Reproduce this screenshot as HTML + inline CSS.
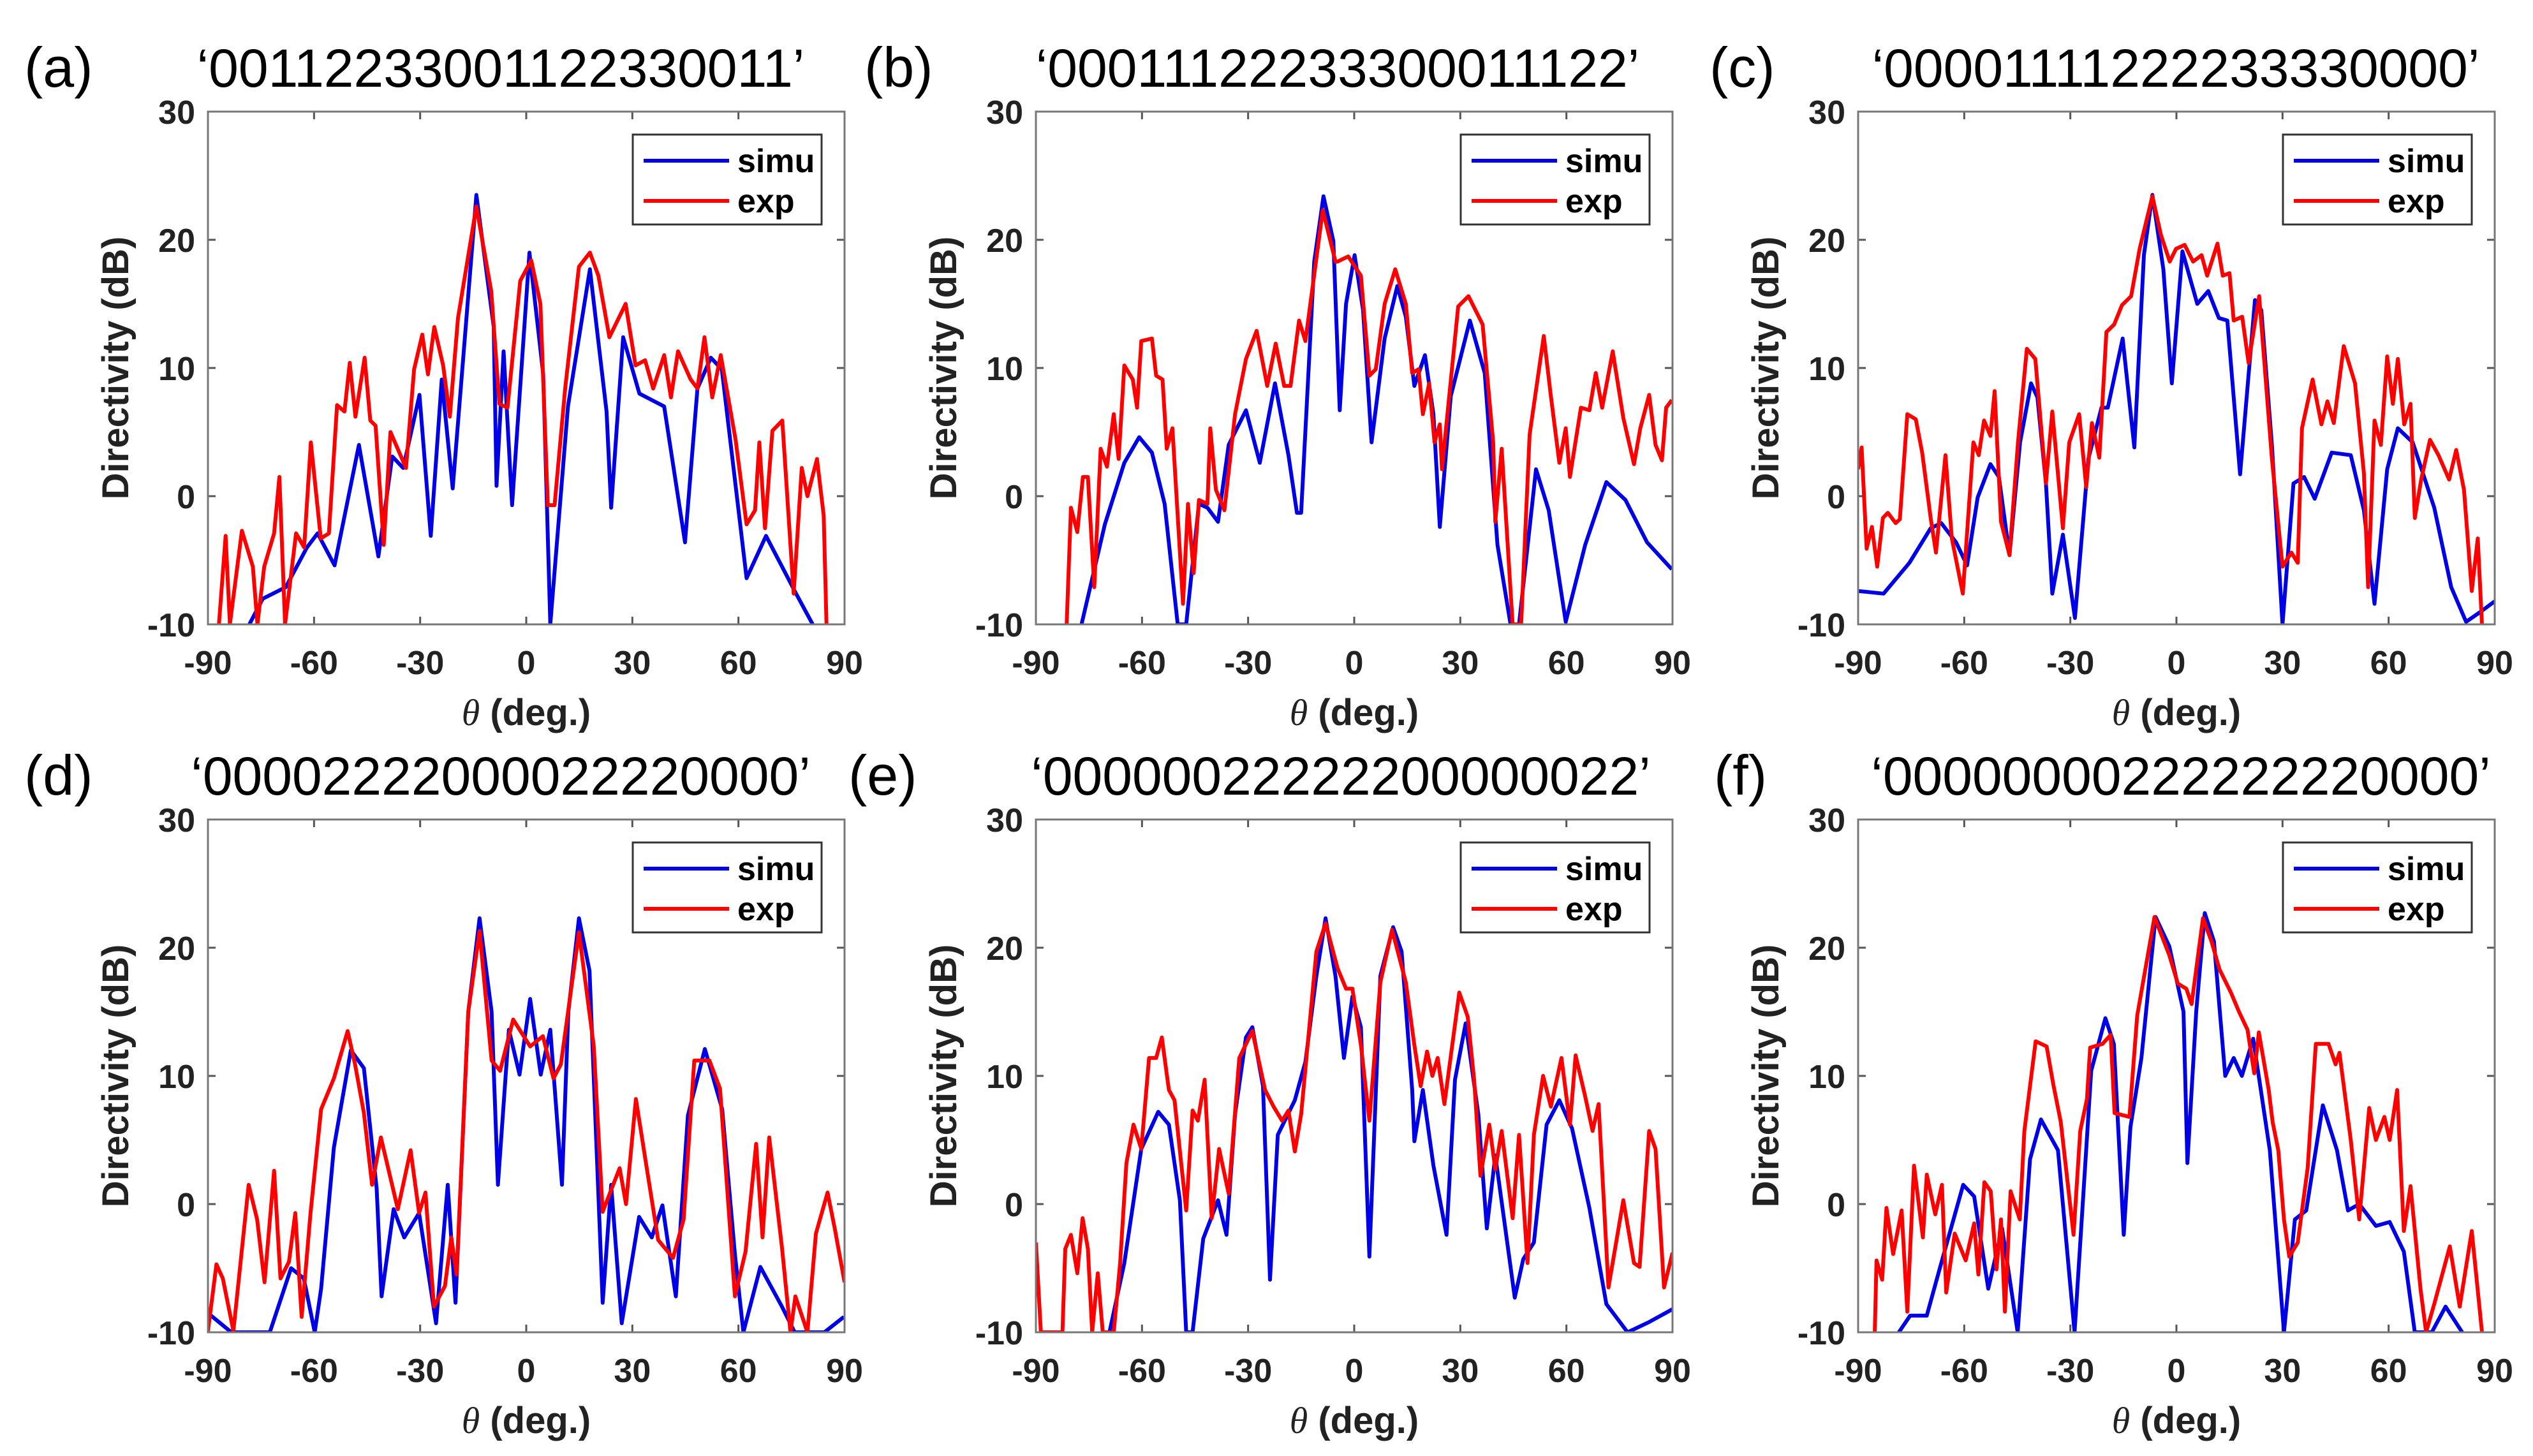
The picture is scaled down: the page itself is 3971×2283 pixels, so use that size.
<!DOCTYPE html>
<html><head><meta charset="utf-8"><style>
html,body{margin:0;padding:0;background:#fff;}
svg{display:block;}
text{font-family:"Liberation Sans",Arial,sans-serif;}
</style></head><body>
<svg id="fig" width="3971" height="2283" viewBox="0 0 3971 2283" xmlns="http://www.w3.org/2000/svg"></svg>
<script>
const xTicks=[-90,-60,-30,0,30,60,90];
const yTicks=[-10,0,10,20,30];
const panelLetters=["(a)","(b)","(c)","(d)","(e)","(f)"];
const panelTitles=["\u20180011223300112233001\u20191".slice(0,0)+"\u2018001122330011223300\u2019".replace("001122330011223300","0011223300112233001"+"1").replace("00112233001122330011","0011223300112233001").slice(0,0)+"\u20180011223300112233\u00300011\u2019".replace("\u0030","0"),"\u20180001112223330001112\u00322\u2019".replace("\u0032","2"),"\u201800001111222233330000\u2019","\u201800002222000022220000\u2019","\u201800000022222200000022\u2019","\u201800000000222222220000\u2019"];
const simuA=[[-78.3,-10],[-74.5,-8],[-68,-7.1],[-62,-4],[-59,-2.9],[-54.2,-5.4],[-47.3,4],[-41.8,-4.7],[-37.9,3.1],[-34.8,2.2],[-30.2,7.9],[-27,-3.1],[-23.9,9.1],[-20.8,0.6],[-14.1,23.5],[-9.2,13.2],[-8.4,0.8],[-6.4,11.3],[-4,-0.7],[0.9,19],[4.8,9.5],[6.8,-10],[11.8,7],[18,17.7],[22.7,6.6],[24,-0.9],[27.4,12.4],[32,8],[39,7],[44.9,-3.6],[48.4,8.4],[52.2,10.8],[55.3,9.9],[62.3,-6.4],[67.8,-3.1],[76.3,-7.6],[81,-10]];
const expA=[[-86.9,-10],[-85,-3.1],[-83.8,-10],[-80.4,-2.7],[-77.3,-5.5],[-76,-10],[-74.1,-5.5],[-71.3,-2.9],[-69.8,1.5],[-68.2,-10],[-65.1,-2.9],[-62.8,-4],[-60.9,4.2],[-58.1,-3.3],[-55.8,-2.9],[-53.5,7.1],[-51.4,6.6],[-49.9,10.4],[-48.3,6.2],[-45.7,10.8],[-44.1,5.9],[-42.6,5.5],[-40.3,-3.8],[-38.4,5],[-34,2.2],[-31.7,9.9],[-29.4,12.6],[-27.8,9.5],[-26,13.2],[-23.5,10.2],[-21.6,6.2],[-19.3,13.9],[-14.1,22.6],[-9.9,16],[-7.6,7.2],[-5.3,6.9],[-1.7,16.8],[1.4,18.4],[4,15],[6.1,-0.7],[8,-0.7],[11,8.4],[14.9,17.9],[18,19],[20.4,17.2],[23.5,12.4],[28.1,15],[30.9,10.2],[33.6,10.6],[35.9,8.4],[39,11],[40.9,7.7],[42.9,11.3],[46.5,9.1],[48.4,8.4],[50.4,12.4],[52.6,7.7],[55,11],[59.2,4.4],[62.3,-2.2],[64.7,-1.1],[65.9,4.2],[67.5,-2.5],[69.6,5.1],[72.4,5.9],[75.6,-7.6],[77.9,2.2],[79.5,0],[82.2,2.9],[84.1,-1.5],[84.9,-10]];
const simuB=[[-77.1,-10],[-70.5,-2.2],[-65,2.6],[-60.8,4.6],[-57.2,3.4],[-53.6,-0.6],[-49.9,-10],[-47.5,-10],[-43.9,-0.6],[-41.5,-0.9],[-38.5,-2],[-35.5,4],[-30.6,6.7],[-26.7,2.6],[-22.4,8.8],[-18.6,3.2],[-16.2,-1.3],[-15,-1.3],[-11.3,18.3],[-8.7,23.4],[-5.9,19.9],[-4.1,6.7],[-2.3,15],[0.1,18.8],[2.5,14.5],[4.9,4.2],[8.6,12.3],[12.2,16.4],[14.6,14],[17,8.6],[20,11],[22.4,6.4],[24.2,-2.4],[27.3,7.8],[32.7,13.7],[36.9,9.6],[40.5,-3.8],[44.2,-10],[46.6,-10],[51.4,2.1],[55,-1.1],[59.8,-9.8],[65.3,-3.8],[71.3,1.1],[76.7,-0.3],[82.8,-3.6],[89.8,-5.7]];
const expB=[[-81.3,-10],[-80.1,-0.9],[-78.3,-2.8],[-76.7,1.5],[-75.3,1.5],[-73.5,-7.1],[-71.7,3.7],[-69.9,2.3],[-68,6.4],[-66.6,2.9],[-65,10.2],[-62.6,9.1],[-61.4,6.9],[-60.2,12.1],[-57.2,12.3],[-56,9.4],[-54.2,9.1],[-53,3.7],[-51.4,5.3],[-48.4,-8.4],[-47,-0.6],[-45.4,-6],[-43.9,-0.3],[-41.5,-0.6],[-40.7,5.3],[-39.1,0.5],[-36.7,-1.1],[-33.7,6.4],[-30.6,10.7],[-27.6,12.9],[-24.6,8.6],[-22.2,11.9],[-19.8,8.6],[-18,8.6],[-15.6,13.7],[-13.8,12.1],[-8.9,22.3],[-5.3,18.3],[-4.7,18.3],[-1.7,18.7],[1.9,17.2],[4.3,9.4],[6.1,9.9],[8.6,15],[11.6,17.7],[14.6,15],[16.4,9.6],[18.2,9.9],[19.4,6.4],[21.2,8.8],[22.7,4.2],[24.2,5.6],[24.8,2.1],[29.4,14.8],[32.3,15.6],[36.3,13.4],[39.3,4.2],[39.9,-2],[41.7,3.7],[44.8,-10],[47.2,-10],[49.6,4.8],[53.6,12.5],[55.6,7.8],[58,2.6],[59.8,5.3],[61,1.5],[64.1,6.9],[66.5,6.7],[68.3,9.6],[70.1,6.9],[73.1,11.3],[76.1,6.1],[79.1,2.5],[80.9,5.3],[83.4,7.9],[85.2,4],[87,2.8],[88.2,6.9],[89.8,7.5]];
const simuC=[[-90,-7.4],[-82.8,-7.6],[-75.5,-5.2],[-69.5,-2.5],[-66.5,-2.1],[-62.3,-3.6],[-59.2,-5.4],[-56.2,-0.1],[-52.6,2.5],[-50.2,1.5],[-47.2,-4.6],[-44.2,4.2],[-41.1,8.8],[-39.3,7.7],[-36.9,1],[-35.1,-7.6],[-32.1,-3],[-28.7,-9.5],[-24.9,2.9],[-21.2,6.9],[-19.4,6.9],[-15.2,12.3],[-11.9,3.8],[-9.2,18.8],[-6.8,23.5],[-3.7,17.7],[-1.3,8.8],[1.7,19.1],[5.9,15],[9,16],[12,13.9],[14.4,13.7],[18,1.7],[22.2,15.3],[24,14.5],[27,4],[30,-10],[33.1,1],[36.1,1.5],[39.1,-0.2],[43.9,3.4],[49.3,3.2],[53,-1.1],[56,-8.4],[59.6,2.1],[62.6,5.3],[66.8,4.2],[72.9,-0.9],[77.7,-7.1],[81.9,-9.8],[86.1,-9],[90,-8.2]];
const expC=[[-90,2.1],[-89,3.8],[-87.6,-4.1],[-86.1,-2.4],[-84.6,-5.5],[-83,-1.7],[-81.6,-1.3],[-79.4,-2.1],[-78.2,-1.8],[-76.1,6.4],[-73.7,6],[-71.9,3.4],[-69.5,-1.7],[-68,-4.4],[-65.3,3.2],[-63.5,-3.3],[-60.4,-7.6],[-57.4,4.2],[-55.9,3.2],[-54.4,5.9],[-52.6,4.7],[-51.4,8.2],[-49.6,-2],[-47.2,-4.6],[-44.8,4.2],[-42.3,11.5],[-39.9,10.7],[-36.9,1],[-35.1,6.6],[-32.1,-2.5],[-30.3,4.2],[-27.5,6.4],[-25.5,0.7],[-23.9,5.7],[-21.8,3],[-19.8,12.8],[-17.6,13.4],[-15.4,14.9],[-12.8,15.6],[-10.4,19.3],[-6.8,23.4],[-4.4,20.4],[-1.9,18.3],[-0.1,19.3],[2.3,19.6],[4.7,18.3],[7.1,18.8],[8.7,17.2],[11.6,19.7],[13.1,17.2],[15,17.4],[16.2,13.7],[18.6,14],[20.4,10.4],[23.4,15.6],[27,2.9],[30,-5.5],[32.5,-4.4],[34.3,-5.2],[35.5,5.3],[38.5,9.1],[41,5.6],[42.7,7.4],[44.5,5.7],[47.3,11.7],[50.5,8.8],[53,1.8],[54.2,-7.1],[56,5.9],[57.8,4],[59.6,10.9],[61.2,7.2],[62.6,10.7],[64.4,5.6],[66.2,7.2],[67.4,-1.7],[69.2,1.3],[71.7,4.4],[74.1,3.2],[77.1,1.3],[79.1,3.6],[81.3,0.5],[83.5,-7.4],[85.2,-3.3],[86.4,-10]];
const simuD=[[-90,-8.5],[-83.4,-10],[-72.5,-10],[-66.5,-5],[-62.9,-5.8],[-59.8,-10],[-58,-6.6],[-54.4,4.4],[-49.6,12],[-45.9,10.6],[-42.3,1.2],[-40.9,-7.2],[-37.5,-0.4],[-34.5,-2.6],[-30.3,-0.7],[-25.5,-9.3],[-22.2,1.5],[-20,-7.7],[-16.4,15],[-13.2,22.3],[-9.8,15],[-8,1.5],[-4.9,13.6],[-1.9,10.1],[1.1,16],[4.1,10.1],[6.8,13.6],[10.1,1.5],[11.9,15],[14.9,22.3],[17.9,18.2],[21.6,-7.7],[24,1.5],[27,-9.3],[31.9,-1],[35.5,-2.6],[38.5,-0.1],[42.3,-7.2],[45.7,6.9],[50.5,12.1],[55.4,7.4],[59,-3.9],[61.4,-10],[66.2,-4.9],[72.3,-8],[75.9,-10],[84.3,-10],[89.8,-8.8]];
const expD=[[-90,-9.9],[-87.6,-4.7],[-85.8,-5.8],[-82.8,-9.9],[-78.5,1.5],[-76.1,-1.2],[-74,-6.1],[-71.3,2.6],[-69.5,-5.8],[-67.1,-4.5],[-65.3,-0.7],[-63.5,-8.8],[-61,-0.7],[-58,7.4],[-54.4,9.8],[-50.5,13.5],[-48.4,10.9],[-45.9,7.1],[-43.6,1.5],[-41.1,5.2],[-36.3,-0.4],[-32.7,4.2],[-30.3,-0.7],[-28.5,0.9],[-26.1,-8],[-23,-6.4],[-21.2,-2.6],[-19.7,-5.5],[-16.4,15],[-13.2,21.3],[-9.8,11.2],[-7.4,10.4],[-3.7,14.4],[1.1,12.3],[4.7,13.1],[7.7,9.8],[9.8,10.9],[14.9,21.2],[19.1,12.3],[21.6,-0.6],[26.4,2.8],[28.2,0],[31,8.2],[34.3,2.4],[37.3,-2.8],[41.5,-4.2],[44.5,-1.2],[47.5,11.2],[51.8,11.2],[54.8,9],[59,-7.2],[62,-3.7],[65,4.7],[66.8,-2.6],[68.7,5.2],[72.3,-3.4],[74.7,-10],[76.1,-7.2],[79.5,-10],[81.9,-2.3],[85.2,0.9],[87.3,-2],[90,-6.1]];
const simuE=[[-69.2,-10],[-65,-4.6],[-60.2,4.3],[-55.4,7.2],[-52.4,6.2],[-49.3,0.3],[-47.5,-10],[-45.7,-10],[-42.7,-2.7],[-38.5,0.3],[-36.1,-2.4],[-33.7,7],[-30.6,13],[-28.8,13.8],[-25.8,9.2],[-23.8,-5.9],[-21.6,5.4],[-16.8,8.1],[-13.8,11.1],[-10.7,17.8],[-8.1,22.3],[-5.3,17.8],[-2.9,11.4],[-0.5,16.2],[1.9,13.8],[4.3,-4.1],[7.4,17.8],[11,21.6],[13.4,19.7],[16.4,8.9],[17,4.9],[19.4,8.9],[22.4,3],[26.1,-2.4],[28.5,9.7],[31.5,14.1],[35.1,7],[37.5,-1.9],[39.9,3.8],[45.4,-7.3],[47.8,-4.3],[50.8,-3],[54.4,6.2],[58,8.1],[61.6,5.9],[66.5,-0.3],[71.3,-7.8],[77.3,-10],[83.4,-9.2],[90,-8.2]];
const expE=[[-90,-3],[-88.6,-10],[-82.5,-10],[-81.7,-3.5],[-80.1,-2.4],[-78.3,-5.4],[-76.8,-1.1],[-75.3,-3.5],[-74.1,-10],[-72.5,-5.4],[-71.1,-10],[-68,-10],[-66.2,-4.6],[-64.4,3.2],[-62.4,6.2],[-60.2,4.3],[-58,11.4],[-56,11.4],[-54.4,13],[-52.4,8.9],[-50.8,8.1],[-47.5,-0.5],[-45.7,7.3],[-44.2,6.5],[-42.3,9.7],[-40.3,-1.1],[-38.2,4.3],[-35.5,0.8],[-32.5,11.4],[-28.8,13.5],[-25.2,8.9],[-22.8,7.6],[-20.4,6.5],[-18.6,7.3],[-16.8,4.1],[-15,7],[-10.7,19.7],[-8.1,21.9],[-4.7,18.4],[-2.3,16.8],[-0.5,16.8],[1.9,12.4],[4.3,6.5],[7.4,17.3],[10.7,21.4],[14.6,17.3],[17,12.4],[18.8,9.2],[20.6,11.9],[22.1,10],[23.6,11.4],[25.5,7.8],[29.7,16.5],[32.1,14.6],[33.9,9.7],[35.7,2.2],[38.2,6.2],[39.9,2.7],[41.7,5.7],[44.8,-1.1],[46.6,5.4],[49,-4.6],[50.8,5.4],[53.4,10],[55.6,7.6],[58.6,11.4],[61,6.2],[62.6,11.6],[65.3,8.4],[67.4,5.7],[69.1,7.8],[71.9,-6.5],[76.1,0.3],[79.1,-4.6],[80.7,-4.9],[83.4,5.7],[85.2,4.3],[87.6,-6.5],[90,-3.8]];
const simuF=[[-78.5,-10],[-75.3,-8.7],[-70.6,-8.7],[-66.7,-4.8],[-60.3,1.5],[-57.2,0.6],[-53.2,-6.6],[-49.3,-1.9],[-44.9,-10],[-41.4,3.5],[-38.3,6.6],[-33.5,4.2],[-28.8,-10],[-24.1,10.4],[-20.1,14.5],[-17.7,12.5],[-14.9,-2.4],[-13,6],[-9.9,11.4],[-5.9,22.4],[-2,20.1],[2,15],[3.1,3.2],[5.6,15],[8,22.7],[10.6,20.5],[13.8,10],[16.2,11.4],[18.5,10],[21.7,12.9],[26.4,4.2],[30.4,-10],[33.5,-1.2],[36.7,-0.5],[41.4,7.7],[45.4,4.2],[48.5,-0.5],[51.7,0],[56.4,-1.7],[60.3,-1.4],[64.3,-3.7],[67.4,-10],[72.2,-10],[76.1,-8],[80.8,-10]];
const expF=[[-85.3,-10],[-84.8,-4.4],[-83.2,-5.9],[-82,-0.3],[-80.1,-3.9],[-77.7,-0.5],[-76.1,-8.4],[-74.2,3],[-71.7,-2.6],[-70.6,2.3],[-68.2,-0.8],[-66.3,1.5],[-65.1,-6.9],[-62.7,-2.3],[-59.6,-4.4],[-57.2,-1.5],[-56,-5.5],[-54.3,1.7],[-52.5,1],[-50.9,-5.1],[-49.6,-1.2],[-48.5,-8.4],[-46.9,1],[-44.3,-1.2],[-43,5.7],[-39.8,12.7],[-36.7,12.3],[-34.8,9.3],[-32.7,6.4],[-29.1,-2.4],[-27.2,5.7],[-25.3,8.2],[-24.4,12.2],[-20.9,12.5],[-18.6,13.2],[-17.5,7.1],[-13.3,6.8],[-11.1,14.7],[-6.2,22.4],[-2,19.4],[0.4,17.2],[2.8,16.8],[4.3,15.6],[7.5,22.3],[9.9,20.5],[12.2,18.3],[15.4,16.5],[17.7,15],[20.1,13.6],[22,10.2],[23.3,13.4],[26.1,8.9],[27.2,6.4],[28.8,4.2],[30.4,-1.2],[31.9,-4.1],[34.3,-3],[37.1,2.8],[39.4,12.5],[43,12.5],[45,10.9],[46.1,11.8],[49.3,5],[51.7,-1.2],[54.5,7.5],[56.4,5],[58.8,6.8],[60.3,5],[62.4,8.9],[64.3,-2.1],[66.2,1.4],[69,-6.6],[70.6,-10],[73,-7.7],[77.3,-3.3],[80.1,-8],[83.5,-2.1],[86.4,-10]];

const NS="http://www.w3.org/2000/svg";
const svg=document.getElementById('fig');
const W=998,H=804;
const lefts=[326,1624,2913],tops=[175,1285];
const titleCx=[785,2097,3411,785,2102,3419];
const letterX=[38,1355,2680,38,1330,2687];
const titles=["\u20180011223300112233\u0030011\u2019","\u20180001112223330001112\u0032\u2019","\u201800001111222233330000\u2019","\u201800002222000022220000\u2019","\u201800000022222200000022\u2019","\u201800000000222222220000\u2019"];
const simuSeries=[simuA,simuB,simuC,simuD,simuE,simuF];
const expSeries=[expA,expB,expC,expD,expE,expF];
function mk(tag,attrs,parent){const e=document.createElementNS(NS,tag);for(const k in attrs)e.setAttribute(k,attrs[k]);(parent||svg).appendChild(e);return e;}
for(let p=0;p<6;p++){
  const L=lefts[p%3],T=tops[Math.floor(p/3)];
  const xs=v=>L+(v+90)/180*W;
  const ys=v=>T+H-(v+10)/40*H;
  const g=mk('g',{});
  
  
  const lt=mk('text',{x:letterX[p],y:T-39,'font-size':88,fill:'#000'},g);lt.textContent=panelLetters[p];
  
  
  const tt=mk('text',{x:titleCx[p],y:T-39,'font-size':84,'text-anchor':'middle',fill:'#000'},g);tt.textContent=titles[p];
  
  
  const cid='clip'+p;
  const cp=mk('clipPath',{id:cid},g);mk('rect',{x:L,y:T,width:W,height:H},cp);
  // ticks
  xTicks.forEach(v=>{const x=xs(v);
    mk('line',{x1:x,y1:T+H,x2:x,y2:T+H-12,stroke:'#555','stroke-width':3},g);
    mk('line',{x1:x,y1:T,x2:x,y2:T+12,stroke:'#555','stroke-width':3},g);
    const t=mk('text',{x:x,y:T+H+78,'font-size':52,'font-weight':'bold','text-anchor':'middle',fill:'#222'},g);t.textContent=v;
    
    });
  yTicks.forEach(v=>{const y=ys(v);
    mk('line',{x1:L,y1:y,x2:L+12,y2:y,stroke:'#555','stroke-width':3},g);
    mk('line',{x1:L+W,y1:y,x2:L+W-12,y2:y,stroke:'#555','stroke-width':3},g);
    const t=mk('text',{x:L-20,y:y+19,'font-size':52,'font-weight':'bold','text-anchor':'end',fill:'#222'},g);t.textContent=v;
    
    });
  const series=[[simuSeries[p],'#0000e6','simu-line'],[expSeries[p],'#ff0000','exp-line']];
  series.forEach(s=>{
    const d=s[0].map((pt,i)=>(i?'L':'M')+xs(pt[0]).toFixed(1)+' '+ys(pt[1]).toFixed(1)).join(' ');
    const path=mk('path',{d:d,fill:'none',stroke:s[1],'stroke-width':6,'stroke-linejoin':'round','clip-path':'url(#'+cid+')'},g);
    
    
  });
  const box=mk('rect',{x:L,y:T,width:W,height:H,fill:'none',stroke:'#777','stroke-width':3},g);
  
  
  // legend
  const lg=mk('g',{},g);
  
  
  const bx=L+W-332,by=T+36;
  mk('rect',{x:bx,y:by,width:296,height:141,fill:'#fff',stroke:'#333','stroke-width':3},lg);
  [['simu','#0000e6',77],['exp','#ff0000',140]].forEach(e=>{
    const ent=mk('g',{},lg);
    
    
    mk('line',{x1:bx+17,x2:bx+151,y1:T+e[2],y2:T+e[2],stroke:e[1],'stroke-width':6},ent);
    const t=mk('text',{x:bx+164,y:T+e[2]+18,'font-size':52,'font-weight':'bold',fill:'#000'},ent);t.textContent=e[0];
  });
  const xl=mk('text',{x:L+W/2,y:T+H+158,'font-size':58,'font-weight':'bold','text-anchor':'middle',fill:'#222'},g);
  xl.innerHTML='<tspan font-style="italic" font-weight="normal" font-family="Liberation Serif, serif">\u03b8</tspan> (deg.)';
  
  
  const yl=mk('text',{x:0,y:0,'font-size':58,'font-weight':'bold','text-anchor':'middle',fill:'#222',transform:'translate('+(L-125)+','+(T+H/2)+') rotate(-90)'},g);
  yl.textContent='Directivity (dB)';
  
  
}
</script>
</body></html>
